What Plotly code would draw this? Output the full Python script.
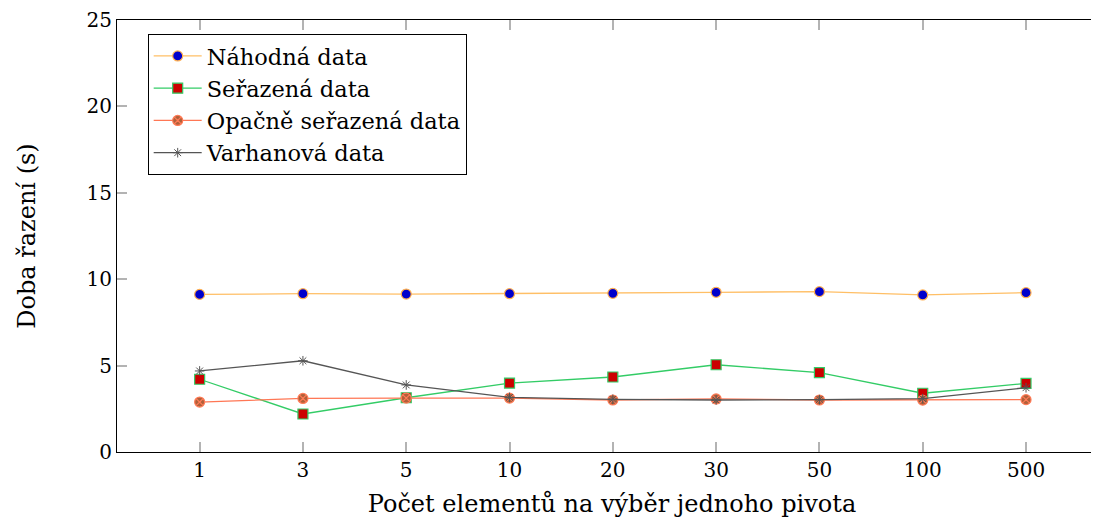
import plotly.graph_objects as go

categories = ["1", "3", "5", "10", "20", "30", "50", "100", "500"]
nahodna = [9.12, 9.16, 9.14, 9.16, 9.18, 9.24, 9.28, 9.09, 9.22]
serazena = [4.21, 2.20, 3.14, 3.99, 4.34, 5.05, 4.59, 3.40, 3.97]
opacne = [2.89, 3.10, 3.12, 3.12, 3.01, 3.07, 3.01, 3.00, 3.03]
varhanova = [4.69, 5.28, 3.88, 3.16, 3.05, 3.01, 3.03, 3.09, 3.72]

FONT = "DejaVu Serif"
FS = 20
TFS = 24
LFS = 22.5

fig = go.Figure()
fig.add_trace(go.Scatter(
    x=categories, y=nahodna, name="Náhodná data", mode="lines+markers",
    line=dict(color="#ffbf66", width=1.3),
    marker=dict(symbol="circle", size=10, color="#0000cc", line=dict(color="#ffb050", width=1.2)),
))
fig.add_trace(go.Scatter(
    x=categories, y=serazena, name="Seřazená data", mode="lines+markers",
    line=dict(color="#33cc66", width=1.3),
    marker=dict(symbol="square", size=10, color="#cc0000", line=dict(color="#33cc66", width=1.2)),
))
fig.add_trace(go.Scatter(
    x=categories, y=opacne, name="Opačně seřazená data", mode="lines+markers",
    line=dict(color="#ff7755", width=1.3),
    marker=dict(symbol="circle-x", size=10, color="#b0603a", line=dict(color="#ff7a55", width=1.2)),
))
fig.add_trace(go.Scatter(
    x=categories, y=varhanova, name="Varhanová data", mode="lines+markers",
    line=dict(color="#555555", width=1.3),
    marker=dict(symbol="asterisk-open", size=8, color="#555555", line=dict(color="#555555", width=1)),
))

fig.update_layout(
    width=1099, height=527,
    margin=dict(l=109, r=0, t=12, b=83),
    paper_bgcolor="white", plot_bgcolor="white",
    font=dict(family=FONT, size=FS, color="black"),
    showlegend=True,
    legend=dict(
        x=0.031, y=0.968, xanchor="left", yanchor="top",
        bgcolor="white", bordercolor="black", borderwidth=1,
        font=dict(family=FONT, size=LFS),
        tracegroupgap=0, itemwidth=48,
    ),
    xaxis=dict(
        type="category", range=[-0.8, 8.784],
        showgrid=False, zeroline=False,
        showline=True, linecolor="black", linewidth=1.2, mirror="ticks",
        ticks="inside", ticklen=10, tickwidth=1.5, tickcolor="#b3b3b3",
        tickfont=dict(family=FONT, size=FS),
        title=dict(text="Počet elementů na výběr jednoho pivota", font=dict(family=FONT, size=TFS), standoff=14),
    ),
    yaxis=dict(
        range=[0, 25], tickvals=[0, 5, 10, 15, 20, 25],
        showgrid=False, zeroline=False,
        showline=True, linecolor="black", linewidth=1.2, mirror=False,
        ticks="inside", ticklen=10, tickwidth=1.5, tickcolor="#b3b3b3",
        tickfont=dict(family=FONT, size=FS),
        title=dict(text="Doba řazení (s)", font=dict(family=FONT, size=TFS), standoff=44),
    ),
)

fig.write_html("out.html")
